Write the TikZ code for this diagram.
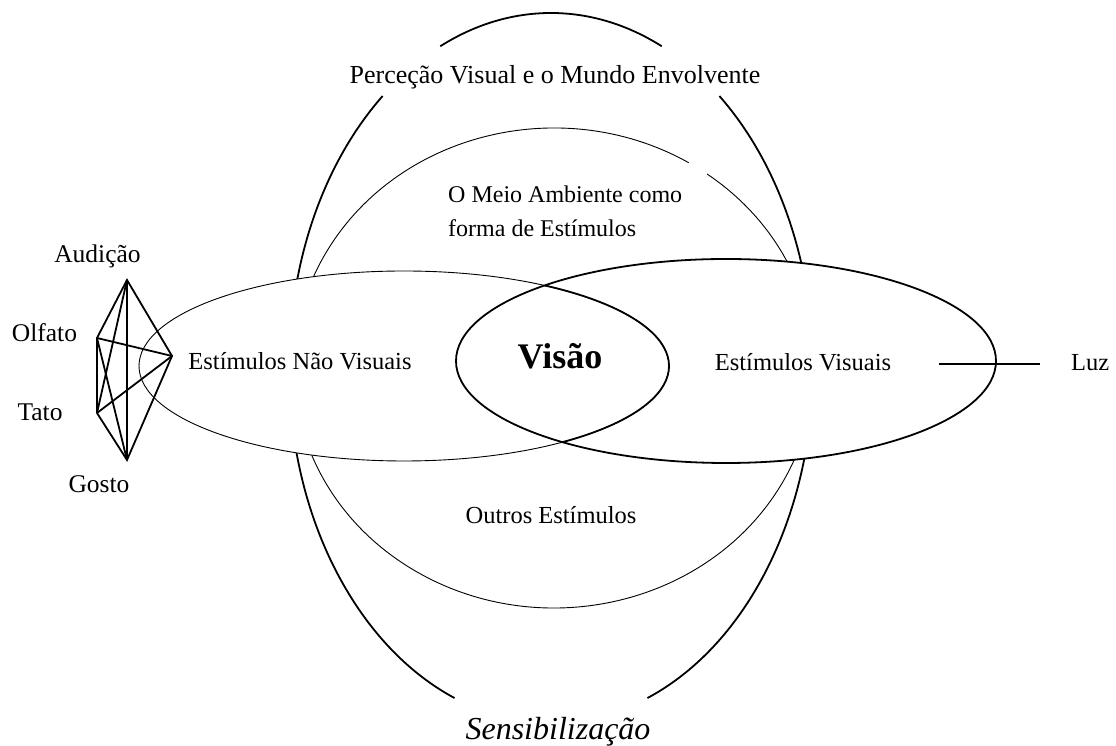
\documentclass[tikz,border=0pt]{standalone}
\usepackage{fontspec}
\setmainfont{Liberation Serif}
\usepackage{tikz}

\tikzset{
  heavy/.style={line width=1.8pt},
  light/.style={line width=0.9pt},
  lbl/.style={font=\fontsize{24.5}{34}\selectfont, inner sep=0pt, anchor=base},
  sense/.style={lbl, font=\fontsize{25.5}{30}\selectfont},
}

\begin{document}
\begin{tikzpicture}[x=1pt,y=1pt]
  \useasboundingbox (0,0) rectangle (1116,746);
  % outer ellipse, open round the two titles
  \draw[heavy] (551,378) ++(65:262 and 355) arc[start angle=65, end angle=115, x radius=262, y radius=355];
  \draw[heavy] (551,378) ++(130:262 and 355) arc[start angle=130, end angle=248.4, x radius=262, y radius=355];
  \draw[heavy] (551,378) ++(-68.4:262 and 355) arc[start angle=-68.4, end angle=50, x radius=262, y radius=355];
  % inner ring
  \draw[light] (554,378) ++(58.8:260 and 240) arc[start angle=58.8, end angle=413.9, x radius=260, y radius=240];
  % stimuli ellipses
  \fill[white] (404,380) ellipse[x radius=265, y radius=95];
  \fill[white] (726,385) ellipse[x radius=270, y radius=102];
  \draw[light] (404,380) ellipse[x radius=265, y radius=95];
  \draw[heavy] (726,385) ellipse[x radius=270, y radius=102];
  \begin{scope}
    \clip (726,385) ellipse[x radius=270, y radius=102];
    \draw[heavy] (404,380) ellipse[x radius=265, y radius=95];
  \end{scope}

  \node[lbl, font=\fontsize{26}{30}\selectfont] (titulo) at (555,662) {Perceção Visual e o Mundo Envolvente};
  \node[lbl, font=\fontsize{24}{34}\selectfont, anchor=base west, align=left] (meio) at (448,509) {O Meio Ambiente como\\forma de Estímulos};
  \node[lbl] (naovis) at (300,376) {Estímulos Não Visuais};
  \node[lbl, font=\fontsize{36}{40}\selectfont\bfseries] (visao) at (560,377) {Visão};
  \node[lbl] (visuais) at (803,375) {Estímulos Visuais};
  \node[lbl, anchor=base west] (luz) at (1071,375) {Luz};
  \node[lbl] (outros) at (551,222) {Outros Estímulos};
  \node[lbl, font=\fontsize{32}{36}\selectfont\itshape] (sensib) at (558,6) {Sensibilização};

  % light in
  \coordinate (luzin) at (939,382);
  \draw[heavy] (luzin) -- ([xshift=-31pt]luz.west |- luzin);

  % the other senses
  \coordinate (au) at (127,466);
  \coordinate (ol) at (97,408);
  \coordinate (ta) at (97,333);
  \coordinate (go) at (127,286);
  \coordinate (es) at (172,390);
  \draw[heavy] (au) -- (ol) -- (ta) -- (go) -- (es) -- cycle;
  \draw[heavy] (au) -- (ta);
  \draw[heavy] (au) -- (go);
  \draw[heavy] (ol) -- (es);
  \draw[heavy] (ol) -- (go);
  \draw[heavy] (ta) -- (es);
  \node[sense] (audicao) at (97.5,483) {Audição};
  \node[sense] (olfato) at (44.5,404) {Olfato};
  \node[sense] (tato) at (40,325) {Tato};
  \node[sense] (gosto) at (99,253) {Gosto};
\end{tikzpicture}
\end{document}
